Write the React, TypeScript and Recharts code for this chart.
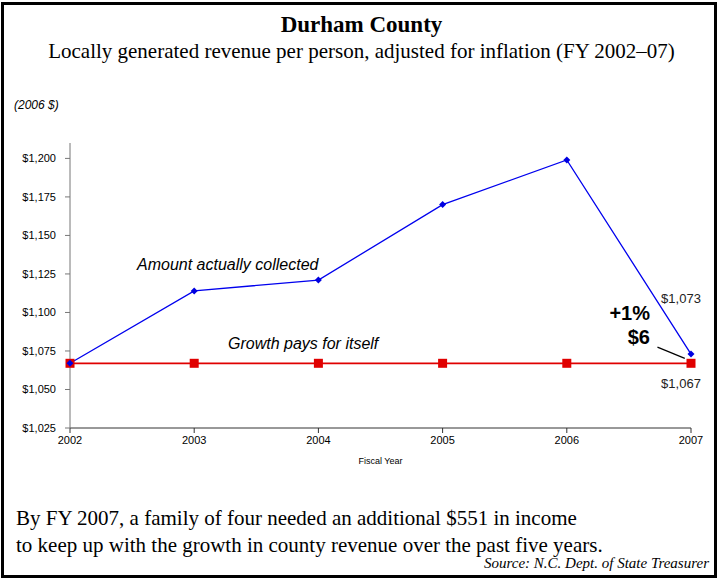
import { LineChart, Line, XAxis, YAxis, ReferenceLine, LabelList } from 'recharts';

const years = [2002, 2003, 2004, 2005, 2006, 2007];
const collected = [1067, 1114, 1121, 1170, 1199, 1073];
const growthOnly = [1067, 1067, 1067, 1067, 1067, 1067];
const yTicks = [1025, 1050, 1075, 1100, 1125, 1150, 1175, 1200];

const data = years.map((y, i) => ({ year: y, collected: collected[i], growth: growthOnly[i] }));

const fmt = (v: number) => '$' + v.toLocaleString('en-US');

const SANS = '"Liberation Sans", Arial, sans-serif';
const SERIF = '"Liberation Serif", "Times New Roman", serif';

const Diamond = (props: any) => {
  const { cx, cy } = props;
  if (cx == null || cy == null) return null;
  const s = 3.5;
  return <polygon points={`${cx},${cy - s} ${cx + s},${cy} ${cx},${cy + s} ${cx - s},${cy}`} fill="#0000e0" />;
};

const Square = (props: any) => {
  const { cx, cy } = props;
  if (cx == null || cy == null) return null;
  return <rect x={cx - 4.5} y={cy - 4.5} width={9} height={9} fill="#e00000" />;
};

// value label only on the last point (2007)
const endLabel = (dy: number) => (props: any) => {
  const { x, y, value, index } = props;
  if (index !== years.length - 1) return null;
  return (
    <text x={x - 10} y={y + dy} textAnchor="middle" fontSize={13} fontFamily={SANS} fill="#222">
      {fmt(value)}
    </text>
  );
};

export default function App() {
  return (
    <div style={{ position: 'absolute', left: 0, top: 0, width: 723, height: 579, background: '#fff', fontFamily: SERIF }}>
      <div style={{ position: 'absolute', left: 1, top: 2, width: 716, height: 576, border: '3px solid #000', boxSizing: 'border-box' }} />
      <div style={{ position: 'absolute', left: 0, width: 723, top: 12, textAlign: 'center', fontWeight: 700, fontSize: 23 }}>Durham County</div>
      <div style={{ position: 'absolute', left: 0, width: 723, top: 39, textAlign: 'center', fontSize: 21 }}>
        Locally generated revenue per person, adjusted for inflation (FY 2002–07)
      </div>
      <div style={{ position: 'absolute', left: 14, top: 98, fontFamily: SANS, fontStyle: 'italic', fontSize: 12 }}>(2006 $)</div>

      <div style={{ position: 'absolute', left: 0, top: 0 }}>
        <LineChart width={723} height={579} data={data} margin={{ top: 143, right: 32, bottom: 121, left: 10 }}>
          <XAxis
            dataKey="year"
            type="number"
            domain={[2002, 2007]}
            ticks={years}
            tick={{ fontSize: 11, fontFamily: SANS, fill: '#000' }}
            tickSize={5}
            tickMargin={3}
            stroke="#333"
            height={30}
            label={{ value: 'Fiscal Year', position: 'insideBottom', offset: -6, fontSize: 9, fontFamily: SANS, fill: '#000' }}
          />
          <YAxis
            type="number"
            domain={[1025, 1210]}
            ticks={yTicks}
            tickFormatter={fmt}
            tick={{ fontSize: 11, fontFamily: SANS, fill: '#000' }}
            tickSize={5}
            tickMargin={9}
            stroke="#777"
            width={60}
          />
          <ReferenceLine
            segment={[{ x: 2006.73, y: 1077.5 }, { x: 2006.95, y: 1070.2 }]}
            stroke="#000"
            strokeWidth={1.2}
          />
          <Line dataKey="growth" stroke="#e00000" strokeWidth={1.8} dot={<Square />} isAnimationActive={false}>
            <LabelList dataKey="growth" content={endLabel(25)} />
          </Line>
          <Line dataKey="collected" stroke="#0000ee" strokeWidth={1.3} dot={<Diamond />} isAnimationActive={false}>
            <LabelList dataKey="collected" content={endLabel(-51)} />
          </Line>
        </LineChart>
      </div>

      <div style={{ position: 'absolute', left: 137, top: 256, fontFamily: SANS, fontStyle: 'italic', fontSize: 16 }}>Amount actually collected</div>
      <div style={{ position: 'absolute', left: 228, top: 335, fontFamily: SANS, fontStyle: 'italic', fontSize: 16 }}>Growth pays for itself</div>
      <div style={{ position: 'absolute', left: 590, top: 302, width: 60, textAlign: 'right', fontFamily: SANS, fontWeight: 700, fontSize: 20 }}>+1%</div>
      <div style={{ position: 'absolute', left: 590, top: 326, width: 60, textAlign: 'right', fontFamily: SANS, fontWeight: 700, fontSize: 20 }}>$6</div>

      <div style={{ position: 'absolute', left: 16, top: 505, fontSize: 21, lineHeight: '27px', whiteSpace: 'nowrap' }}>
        By FY 2007, a family of four needed an additional $551 in income
        <br />
        to keep up with the growth in county revenue over the past five years.
      </div>
      <div style={{ position: 'absolute', right: 14, top: 555, fontStyle: 'italic', fontSize: 15 }}>Source: N.C. Dept. of State Treasurer</div>
    </div>
  );
}
